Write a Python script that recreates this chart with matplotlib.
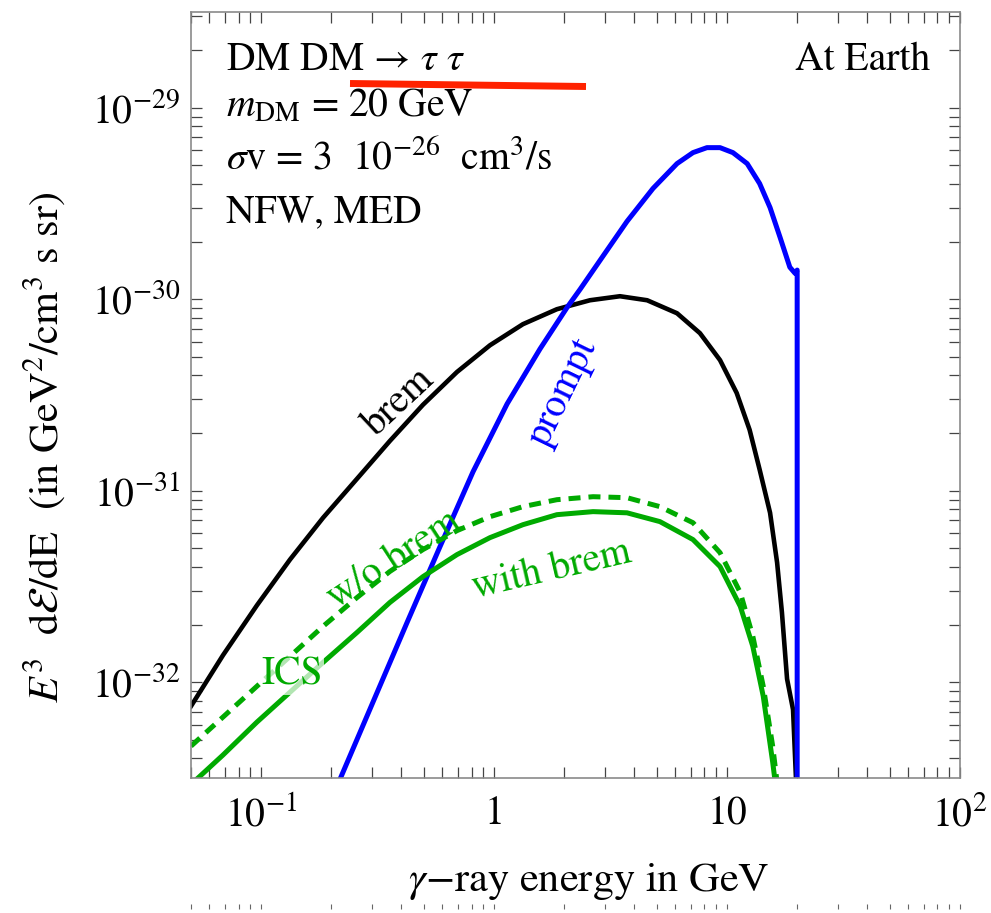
import matplotlib
matplotlib.use("Agg")
import matplotlib.pyplot as plt
from matplotlib.ticker import FixedLocator, LogLocator, NullFormatter

# ---- spectra (E in GeV, E^3 dE/dE in GeV^2 / cm^3 s sr) ----
energy_brem = [0.050, 0.0686, 0.0959, 0.133, 0.1845, 0.258, 0.357, 0.495, 0.693,
               0.960, 1.33, 1.86, 2.58, 3.47, 4.54, 6.10, 7.65, 9.33, 11.0,
               12.5, 13.8, 15.3, 16.4, 17.2, 18.1, 19.2, 19.8]
flux_brem = [7.5e-33, 1.384e-32, 2.52e-32, 4.37e-32, 7.23e-32, 1.155e-31, 1.82e-31,
             2.81e-31, 4.17e-31, 5.75e-31, 7.41e-31, 8.87e-31, 9.88e-31, 1.037e-30,
             9.88e-31, 8.45e-31, 6.65e-31, 4.81e-31, 3.24e-31, 2.08e-31, 1.29e-31,
             7.67e-32, 4.22e-32, 2.32e-32, 1.04e-32, 7.2e-33, 3.0e-33]

energy_prompt = [0.21, 0.302, 0.423, 0.586, 0.812, 1.137, 1.574, 2.06, 2.34, 2.85,
                 3.72, 4.81, 6.10, 7.14, 8.20, 9.33, 10.6, 12.2, 13.8, 15.3, 16.9,
                 18.6, 19.6, 20.0, 20.0]
flux_prompt = [2.8e-33, 7.87e-33, 2.05e-32, 5.11e-32, 1.256e-31, 2.84e-31, 5.50e-31,
               9.08e-31, 1.127e-30, 1.596e-30, 2.55e-30, 3.79e-30, 5.11e-30, 5.83e-30,
               6.19e-30, 6.19e-30, 5.83e-30, 5.11e-30, 4.02e-30, 3.01e-30, 2.10e-30,
               1.47e-30, 1.365e-30, 1.42e-30, 1.0e-34]

energy_ics_with = [0.050, 0.0531, 0.0686, 0.0959, 0.133, 0.1845, 0.258, 0.357, 0.495,
                   0.693, 0.960, 1.33, 1.86, 2.66, 3.72, 5.15, 7.14, 9.33, 11.4,
                   12.9, 14.3, 15.7, 16.1]
flux_ics_with = [2.9e-33, 3.13e-33, 4.17e-33, 6.19e-33, 8.87e-33, 1.27e-32, 1.82e-32,
                 2.61e-32, 3.56e-32, 4.64e-32, 5.69e-32, 6.65e-32, 7.50e-32, 7.78e-32,
                 7.67e-32, 6.90e-32, 5.56e-32, 4.02e-32, 2.49e-32, 1.54e-32, 8.46e-33,
                 3.83e-33, 3.0e-33]

energy_ics_without = [0.050, 0.0686, 0.0959, 0.133, 0.1845, 0.258, 0.357, 0.495,
                      0.693, 0.960, 1.33, 1.86, 2.66, 3.72, 5.15, 7.14, 9.33, 11.4,
                      12.9, 14.3, 15.7, 16.4]
flux_ics_without = [4.64e-33, 6.58e-33, 9.53e-33, 1.365e-32, 1.96e-32, 2.77e-32,
                    3.79e-32, 4.93e-32, 6.19e-32, 7.32e-32, 8.26e-32, 8.98e-32,
                    9.31e-32, 9.20e-32, 8.26e-32, 6.81e-32, 4.75e-32, 2.94e-32,
                    1.74e-32, 9.53e-33, 4.64e-33, 3.0e-33]

x_tick_values = [0.1, 1, 10, 100]
x_tick_labels = [r"$10^{-1}$", "1", "10", r"$10^{2}$"]
y_tick_values = [1e-32, 1e-31, 1e-30, 1e-29]
y_tick_labels = [r"$10^{-32}$", r"$10^{-31}$", r"$10^{-30}$", r"$10^{-29}$"]

BLUE = "#0000ff"
GREEN = "#00aa00"

plt.rcParams["font.family"] = ["STIXGeneral", "DejaVu Serif"]
plt.rcParams["mathtext.fontset"] = "stix"
FS = 28.5

W, H = 991, 913
fig = plt.figure(figsize=(W / 100, H / 100), dpi=100)
L, R, T, B = 191, 960, 12, 778
ax = fig.add_axes([L / W, 1 - B / H, (R - L) / W, (B - T) / H])

ax.set_xscale("log")
ax.set_yscale("log")
ax.set_xlim(0.05, 100)
ax.set_ylim(10 ** -32.5, 10 ** -28.5)

kw = dict(solid_joinstyle="round", dash_joinstyle="round")
ax.plot(energy_brem, flux_brem, color="black", lw=3.3, **kw)
ax.plot(energy_prompt, flux_prompt, color=BLUE, lw=3.6, **kw)
ax.plot(energy_ics_without, flux_ics_without, color=GREEN, lw=3.6,
        dashes=(2.4, 1.6), **kw)
ax.plot(energy_ics_with, flux_ics_with, color=GREEN, lw=3.6, **kw)

# ticks
ax.xaxis.set_major_locator(FixedLocator(x_tick_values))
ax.set_xticklabels(x_tick_labels)
ax.yaxis.set_major_locator(FixedLocator(y_tick_values))
ax.set_yticklabels(y_tick_labels)
ax.xaxis.set_minor_locator(LogLocator(base=10, subs=range(2, 10), numticks=20))
ax.yaxis.set_minor_locator(LogLocator(base=10, subs=range(2, 10), numticks=20))
ax.xaxis.set_minor_formatter(NullFormatter())
ax.yaxis.set_minor_formatter(NullFormatter())
ax.tick_params(which="both", direction="in", top=True, right=True,
               length=8, width=0.9, color="#444444")
ax.tick_params(axis="x", which="major", labelsize=FS, pad=13)
ax.tick_params(axis="y", which="major", labelsize=FS, pad=8)
for sp in ax.spines.values():
    sp.set_color("#8a8a8a")
    sp.set_linewidth(1.2)

# axis titles
fig.text(45 / W, 1 - 447 / H,
         r"$E^3$  d$\mathcal{E}$/dE  (in GeV$^2$/cm$^3$ s sr)",
         rotation=90, ha="center", va="center", fontsize=30.5)
fig.text(589 / W, 1 - 891 / H, r"$\gamma$$-$ray energy in GeV",
         ha="center", va="baseline", fontsize=30.5)

# annotations
def axfrac(px, py):
    return (px - L) / (R - L), (B - py) / (B - T)

tx = ax.transAxes
ax.text(*axfrac(226, 70), r"DM DM → $\tau$ $\tau$", transform=tx,
        fontsize=FS, ha="left", va="baseline")
ax.text(*axfrac(226, 117), r"$m_{\rm DM}$ = 20 GeV", transform=tx,
        fontsize=FS, ha="left", va="baseline")
ax.text(*axfrac(226, 170), r"$\sigma$v = 3  10$^{-26}$  cm$^3$/s", transform=tx,
        fontsize=FS, ha="left", va="baseline")
ax.text(*axfrac(226, 222), "NFW, MED", transform=tx,
        fontsize=FS, ha="left", va="baseline")
ax.text(*axfrac(930, 70), "At Earth", transform=tx,
        fontsize=FS, ha="right", va="baseline")

x0, y0 = axfrac(350, 83.5)
x1, y1 = axfrac(586, 86.5)
ax.plot([x0, x1], [y0, y1], transform=tx, color="#ff2200", lw=5,
        solid_capstyle="butt", clip_on=False)

ax.text(0.391, 2.91e-31, "brem", color="black", fontsize=FS, rotation=43,
        ha="center", va="center", rotation_mode="anchor")
ax.text(1.98, 3.28e-31, "prompt", color=BLUE, fontsize=FS, rotation=64,
        ha="center", va="center", rotation_mode="anchor")
ax.text(0.372, 4.37e-32, "w/o brem", color=GREEN, fontsize=FS, rotation=33,
        ha="center", va="center", rotation_mode="anchor")
ax.text(1.77, 3.88e-32, "with brem", color=GREEN, fontsize=FS, rotation=13,
        ha="center", va="center", rotation_mode="anchor")
ax.text(0.136, 1.09e-32, "ICS", color=GREEN, fontsize=FS, ha="center",
        va="center", bbox=dict(facecolor="white", alpha=0.7, edgecolor="none",
                               pad=0.5))

# strip of tick marks along the bottom edge
ax2 = fig.add_axes([L / W, 0, (R - L) / W, 9 / H])
ax2.set_xscale("log")
ax2.set_xlim(0.05, 100)
ax2.set_yticks([])
for sp in ax2.spines.values():
    sp.set_visible(False)
ax2.patch.set_alpha(0)
ax2.xaxis.set_major_locator(FixedLocator(x_tick_values))
ax2.xaxis.set_minor_locator(LogLocator(base=10, subs=range(2, 10), numticks=20))
ax2.tick_params(which="both", direction="in", bottom=False, top=True,
                labelbottom=False, length=3.5, width=0.8, color="#666666")

fig.savefig("out.png", dpi=100)
